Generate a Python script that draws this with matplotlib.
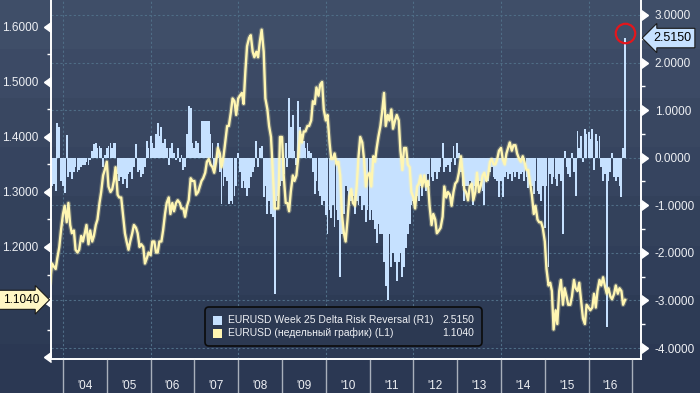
import numpy as np
import pandas as pd
import matplotlib
matplotlib.use("Agg")
import matplotlib.pyplot as plt
from matplotlib import font_manager as fm, transforms as mtrans
from matplotlib.colors import LinearSegmentedColormap
from matplotlib.patches import FancyBboxPatch, Rectangle

# ── Data: semi-monthly readings, mid-Sep 2003 .. Nov 2016 ─────────────────────
eurusd = [
    1.135, 1.17, 1.165, 1.16, 1.18, 1.20, 1.23,                                   # 2003
    1.26, 1.275, 1.245, 1.28, 1.24, 1.225, 1.23, 1.195, 1.19, 1.195, 1.22, 1.21,
    1.225, 1.24, 1.205, 1.23, 1.21, 1.22, 1.24, 1.25, 1.28, 1.30, 1.33, 1.34,     # 2004
    1.355, 1.31, 1.30, 1.305, 1.32, 1.345, 1.295, 1.29, 1.29, 1.26, 1.225, 1.21,
    1.195, 1.21, 1.225, 1.24, 1.235, 1.225, 1.20, 1.205, 1.20, 1.17, 1.18, 1.19,  # 2005
    1.185, 1.21, 1.21, 1.19, 1.19, 1.21, 1.21, 1.23, 1.26, 1.28, 1.29, 1.26,
    1.28, 1.265, 1.28, 1.285, 1.28, 1.27, 1.27, 1.255, 1.275, 1.285, 1.325, 1.32, # 2006
    1.32, 1.295, 1.30, 1.31, 1.32, 1.325, 1.335, 1.355, 1.36, 1.35, 1.345, 1.335,
    1.355, 1.38, 1.37, 1.345, 1.365, 1.39, 1.42, 1.42, 1.445, 1.47, 1.465, 1.44,  # 2007
    1.47, 1.475, 1.48, 1.46, 1.52, 1.565, 1.58, 1.585, 1.555, 1.545, 1.555, 1.545,
    1.575, 1.595, 1.555, 1.47, 1.45, 1.42, 1.40, 1.34, 1.27, 1.27, 1.27, 1.40,    # 2008
    1.40, 1.33, 1.28, 1.28, 1.265, 1.30, 1.33, 1.32, 1.33, 1.36, 1.41, 1.39,
    1.41, 1.41, 1.42, 1.42, 1.43, 1.465, 1.46, 1.49, 1.475, 1.495, 1.50, 1.45,    # 2009
    1.43, 1.44, 1.39, 1.36, 1.36, 1.37, 1.35, 1.355, 1.33, 1.26, 1.225, 1.21,
    1.25, 1.29, 1.305, 1.28, 1.275, 1.31, 1.365, 1.40, 1.39, 1.36, 1.31, 1.33,    # 2010
    1.335, 1.31, 1.365, 1.355, 1.38, 1.40, 1.42, 1.445, 1.48, 1.42, 1.44, 1.43,
    1.45, 1.415, 1.43, 1.44, 1.43, 1.375, 1.34, 1.38, 1.38, 1.35, 1.345, 1.30,   # 2011
    1.29, 1.27, 1.31, 1.315, 1.33, 1.31, 1.33, 1.31, 1.32, 1.275, 1.24, 1.26,
    1.25, 1.225, 1.23, 1.235, 1.255, 1.31, 1.29, 1.30, 1.295, 1.275, 1.30, 1.315, # 2012
    1.32, 1.335, 1.365, 1.335, 1.305, 1.30, 1.285, 1.31, 1.315, 1.285, 1.30, 1.335,
    1.30, 1.31, 1.33, 1.335, 1.32, 1.33, 1.355, 1.36, 1.35, 1.35, 1.36, 1.375,   # 2013
    1.38, 1.36, 1.35, 1.37, 1.38, 1.39, 1.375, 1.385, 1.385, 1.37, 1.36, 1.355,
    1.365, 1.355, 1.34, 1.34, 1.315, 1.295, 1.26, 1.275, 1.25, 1.245, 1.245, 1.235,  # 2014
    1.21, 1.16, 1.13, 1.135, 1.12, 1.05, 1.085, 1.06, 1.12, 1.14, 1.095, 1.125,
    1.11, 1.095, 1.095, 1.11, 1.14, 1.125, 1.12, 1.135, 1.10, 1.07, 1.06, 1.095,  # 2015
    1.09, 1.085, 1.09, 1.115, 1.09, 1.12, 1.14, 1.13, 1.145, 1.13, 1.115, 1.125,
    1.11, 1.105, 1.115, 1.13, 1.115, 1.125, 1.12, 1.095, 1.104,                   # 2016
]

risk_rev = [
    -0.35, -0.6, -0.55, -0.7, 0.72, 0.65, -0.5,                                   # 2003
    -0.6, -0.75, 0.48, -0.4, -0.3, -0.45, -0.3, -0.2, -0.3, -0.25, -0.2, -0.15,
    -0.15, -0.1, -0.15, -0.05, 0.15, 0.28, 0.3, 0.2, 0.25, 0.2, -0.2, 0.05,       # 2004
    0.2, 0.25, 0.3, 0.2, 0.3, 0.3, -0.35, -0.5, -0.4, -0.55, -0.45, -0.63,
    -0.35, -0.3, -0.45, -0.2, 0.28, -0.3, -0.25, -0.4, -0.35, -0.2, 0.36, 0.2,    # 2005
    0.45, 0.3, 0.2, 0.5, 0.74, 0.45, 0.64, 0.3, 0.4, 0.2, -0.15, 0.2,
    0.3, 0.1, -0.05, 0.2, -0.1, 0.05, -0.25, -0.2, 0.5, 1.09, 1.05, 0.3,          # 2006
    0.2, 0.36, 0.3, 0.1, 0.78, 0.78, 0.78, 0.78, 0.78, 0.5, 0.3, -0.2,
    -0.1, 0.3, -0.3, -0.97, -0.6, -0.4, -0.5, -0.97, -0.9, -0.97, -0.8, -0.6,     # 2007
    0.1, -0.3, -0.63, -0.5, -0.63, -0.8, -0.63, -0.4, -0.3, -0.2, 0.36, -0.2,
    0.2, 0.25, -0.83, -0.6, -1.18, -0.9, -1.18, -1.25, -2.86, -0.9, -0.8, -0.6,   # 2008
    -0.5, -0.35, 0.3, -0.2, 1.26, 0.64, 0.9, 0.15, -0.15, 1.2, 0.64, 0.5,
    0.36, 0.2, 0.3, 0.15, 0.1, -0.3, -0.76, -0.5, -0.7, -0.8, -1.0, -0.9,         # 2009
    -1.2, -1.6, -1.1, -1.26, -1.0, -1.45, -1.1, -1.3, -2.5, -1.6, -1.18, -0.6,
    -0.7, -1.0, -0.9, -0.8, -1.18, -0.9, -1.0, -0.8, -1.1, -1.0, -1.35, -1.1,     # 2010
    -1.3, -1.1, -1.3, -1.5, -1.8, -1.4, -1.6, -1.6, -2.2, -2.7, -3.0, -1.6,
    -2.3, -2.0, -2.2, -2.6, -2.2, -2.0, -2.5, -2.3, -1.9, -1.6, -1.4, -1.0,       # 2011
    -0.9, -1.0, -0.8, -0.9, -0.6, -0.8, -0.5, -0.7, -0.35, -0.6, -0.4, -0.5,
    -0.3, -0.45, -0.3, -0.2, 0.3, -0.3, -0.2, -0.15, -0.3, -0.1, 0.25, -0.15,     # 2012
    0.3, 0.1, -0.3, -0.6, -0.9, -0.6, -0.6, -0.5, -0.6, -1.0, -0.6, -0.6,
    -0.5, -0.5, -0.7, -1.0, -0.5, -0.48, -0.3, -0.2, -0.4, -0.45, -0.5, -0.83,    # 2013
    -0.5, -0.83, -0.4, -0.3, -0.45, -0.35, -0.5, -0.3, -0.4, -0.3, -0.45, -0.35,
    -0.3, -0.5, -0.4, -0.63, -0.5, -0.6, -0.76, -0.5, -0.7, -0.76, -0.9, -0.6,    # 2014
    -1.47, -0.6, -2.3, -0.35, -0.55, -0.4, -0.45, -0.6, -0.35, -0.5, -1.6, 0.15,
    -0.2, -0.35, -0.4, 0.1, -0.3, -0.8, 0.57, 0.2, 0.45, -0.1, 0.6, 0.5,          # 2015
    0.55, 0.4, 0.6, -0.25, 0.5, 0.35, 0.45, -0.2, -0.48, -0.35, -3.56, -0.5,
    -0.3, 0.1, -0.4, -0.5, -0.4, -0.6, -0.83, 0.2, 2.515,                         # 2016
]

years = list(range(2004, 2018))
year_labels = ["'04", "'05", "'06", "'07", "'08", "'09", "'10",
               "'11", "'12", "'13", "'14", "'15", "'16"]
left_ticks = [1.0, 1.1, 1.2, 1.3, 1.4, 1.5, 1.6]
right_ticks = [-4, -3, -2, -1, 0, 1, 2, 3]

label_rr = "EURUSD Week 25 Delta Risk Reversal (R1)"
label_fx = "EURUSD (недельный график) (L1)"

# ── Style ─────────────────────────────────────────────────────────────────────
C_BAR = "#c6e1ff"
C_LINE = "#fff6b2"
C_GRID = "#4f6d86"
C_TEXT = "#eef0f4"

names = {f.name for f in fm.fontManager.ttflist}
if "Liberation Sans Narrow" in names:
    FONT, FS, FS_LEG = "Liberation Sans Narrow", 10.5, 8.5
else:
    FONT, FS, FS_LEG = "Liberation Sans", 8.5, 7.5
plt.rcParams["font.family"] = [FONT, "DejaVu Sans"]

dates = pd.date_range("2003-09-15", periods=len(eurusd), freq="SMS")
t = np.array(dates.year + (dates.dayofyear - 1) / (365 + dates.is_leap_year))

fig = plt.figure(figsize=(7, 3.93), dpi=100)

# banded background gradient
bg = fig.add_axes([0, 0, 1, 1], zorder=-10)
cmap = LinearSegmentedColormap.from_list("bg", ["#3f4e68", "#2b3853"])
bg.imshow(np.linspace(0, 1, 8)[:, None], cmap=cmap, aspect="auto",
          extent=[0, 1, 0, 1], interpolation="nearest")
bg.axis("off")

ax = fig.add_axes([51 / 700, 1 - 359 / 393, 590 / 700, 359 / 393])
ax2 = ax.twinx()
ax.set_zorder(1)
ax.patch.set_visible(False)
ax2.patch.set_visible(False)

# ── Bars (right axis) ─────────────────────────────────────────────────────────
ax2.set_axisbelow(True)
ax2.bar(t, risk_rev, width=1 / 24, color=C_BAR, linewidth=0, zorder=2)
ax2.set_yticks(right_ticks)
ax2.set_yticks(np.arange(-3.5, 3.0, 1.0), minor=True)
ax2.set_yticklabels([f"{v:.4f}" for v in right_ticks])
ax2.yaxis.grid(True, which="major", linestyle=(0, (2, 2)), color=C_GRID, lw=0.8)
for yr in years[::2]:
    ax2.axvline(yr, linestyle=(0, (2, 2)), color=C_GRID, lw=0.8, zorder=1)
ax2.set_ylim(-4.231, 3.315)
ax2.tick_params(axis="y", which="major", length=0, pad=10,
                labelcolor=C_TEXT, labelsize=FS)
ax2.tick_params(axis="y", which="minor", length=3, width=1, color="white")

# ── Line (left axis) ──────────────────────────────────────────────────────────
ax.plot(t, eurusd, color=C_LINE, lw=3.4, alpha=0.25, zorder=3)
ax.plot(t, eurusd, color=C_LINE, lw=1.7, zorder=4, solid_joinstyle="round")
ax.set_ylim(0.9964, 1.649)
ax.set_xlim(2003.726, 2017.196)
ax.set_yticks(left_ticks)
ax.set_yticklabels([f"{v:.4f}" if v >= 1.2 else "" for v in left_ticks])
ax.set_yticks(np.arange(1.05, 1.6, 0.1), minor=True)
ax.tick_params(axis="y", which="major", length=0, pad=9,
               labelcolor=C_TEXT, labelsize=FS)
ax.tick_params(axis="y", which="minor", length=3, width=1, color="white")

# caret markers on the axis lines
tr_l = mtrans.blended_transform_factory(ax.transAxes, ax.transData)
tr_r = mtrans.blended_transform_factory(ax2.transAxes, ax2.transData)
ax.plot(np.zeros(len(left_ticks)), left_ticks, ls="none", marker=8, ms=7,
        color="white", transform=tr_l, clip_on=False)
ax2.plot(np.ones(len(right_ticks)), right_ticks, ls="none", marker=9, ms=7,
         color="white", transform=tr_r, clip_on=False)

# x axis: year boundaries + centred labels
ax.set_xticks(years)
ax.set_xticklabels([])
ax.set_xticks([y + 0.5 for y in years[:-1]], minor=True)
ax.set_xticklabels(year_labels, minor=True)
ax.tick_params(axis="x", which="major", length=25, width=1, color="#a9b0bc")
ax.tick_params(axis="x", which="minor", length=0, pad=15,
               labelcolor=C_TEXT, labelsize=FS)

for a in (ax, ax2):
    a.spines["top"].set_visible(False)
    for s in ("left", "right", "bottom"):
        a.spines[s].set_color("white")
        a.spines[s].set_linewidth(1.2)

# last-value flags
ax2.annotate(f"{risk_rev[-1]:.4f}", xy=(1, risk_rev[-1]), xycoords=tr_r,
             xytext=(12, 0), textcoords="offset pixels", ha="left", va="center",
             fontsize=FS + 0.5, color="black", annotation_clip=False,
             bbox=dict(boxstyle="larrow,pad=0.3", fc=C_BAR, ec="#1a1a1a", lw=0.8))
ax.annotate(f"{eurusd[-1]:.4f}", xy=(0, eurusd[-1]), xycoords=tr_l,
            xytext=(-12, 0), textcoords="offset pixels", ha="right", va="center",
            fontsize=FS, color="black", annotation_clip=False,
            bbox=dict(boxstyle="rarrow,pad=0.3", fc="#fff6c4", ec="#1a1a1a", lw=0.8))

# red ring around the latest spike
ax2.plot(t[-1], risk_rev[-1] + 0.1, marker="o", ms=14, mfc="none",
         mec="#e3161c", mew=1.6, clip_on=False, zorder=6)

# ── Legend box (figure pixels -> inches) ──────────────────────────────────────
H = 3.93
def px(x, y):
    return x / 100, H - y / 100

tr_in = fig.dpi_scale_trans
x0, y0 = px(205, 346)
fig.patches.append(FancyBboxPatch((x0, y0), 2.77, 0.39,
                                  boxstyle="round,pad=0,rounding_size=0.04",
                                  transform=tr_in, fc="#2c3952", ec="#0b0b0b",
                                  lw=1.2, zorder=5))
rows = [(label_rr, risk_rev[-1], C_BAR, 320), (label_fx, eurusd[-1], C_LINE, 333)]
for lab, val, col, yy in rows:
    sx, sy = px(213, yy + 4.5)
    fig.patches.append(Rectangle((sx, sy), 0.09, 0.09, transform=tr_in,
                                 fc=col, ec="none", zorder=6))
    tx, ty = px(228, yy)
    fig.text(tx, ty, lab, transform=tr_in, fontsize=FS_LEG, color=C_TEXT,
             ha="left", va="center", zorder=7)
    vx, _ = px(474, yy)
    fig.text(vx, ty, f"{val:.4f}", transform=tr_in, fontsize=FS_LEG,
             color=C_TEXT, ha="right", va="center", zorder=7)

fig.savefig("out.png", dpi=100)
